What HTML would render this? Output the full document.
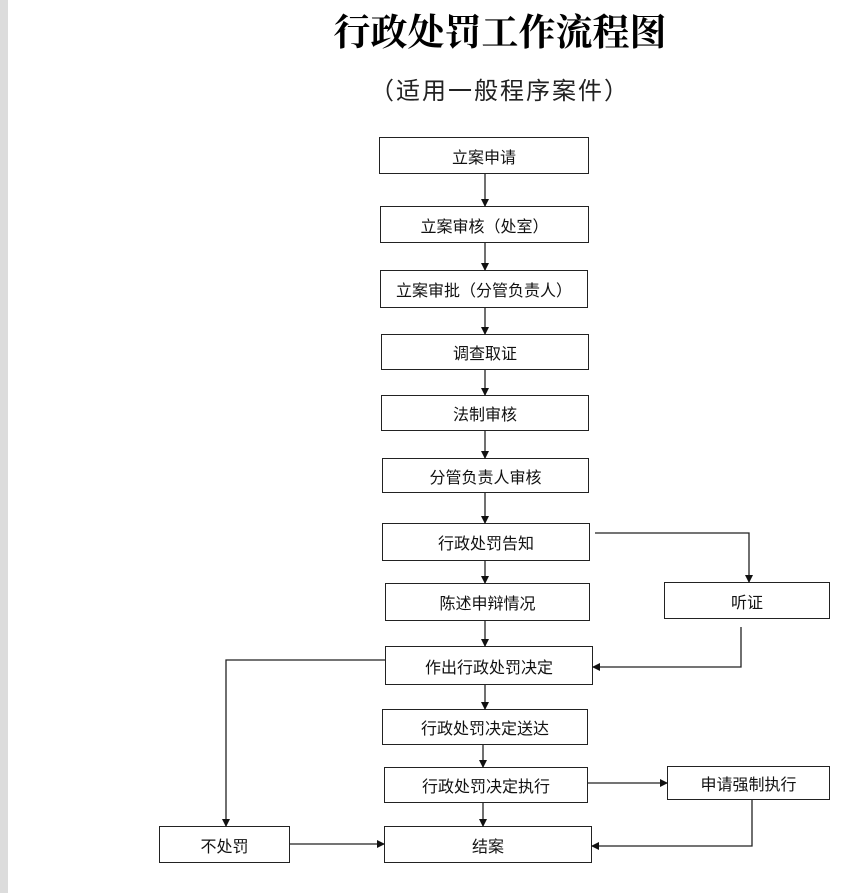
<!DOCTYPE html>
<html><head><meta charset="utf-8"><style>
body{margin:0;width:865px;height:893px;background:#fff;overflow:hidden;position:relative;font-family:"Liberation Sans","Noto Sans CJK SC",sans-serif}
.bar{position:absolute;left:0;top:0;width:8px;height:893px;background:#dcdcdc}
.t{position:absolute;left:290px;width:420px;text-align:center;top:2px;font:bold 37px "Noto Serif CJK SC",serif;color:#000}
.s{position:absolute;left:330px;width:340px;text-align:center;top:71px;font-size:24px;color:#222;letter-spacing:2px}
.b{position:absolute;border:1.5px solid #222;box-sizing:border-box;display:flex;align-items:center;justify-content:center;font-size:16px;color:#111}
</style></head><body>
<div class="bar"></div>
<div class="t">行政处罚工作流程图</div>
<div class="s">（适用一般程序案件）</div>
<div class="b" style="left:379px;top:137px;width:210px;height:37px">立案申请</div>
<div class="b" style="left:380px;top:206px;width:209px;height:37px">立案审核（处室）</div>
<div class="b" style="left:380px;top:270px;width:208px;height:38px">立案审批（分管负责人）</div>
<div class="b" style="left:381px;top:334px;width:208px;height:36px">调查取证</div>
<div class="b" style="left:381px;top:395px;width:208px;height:36px">法制审核</div>
<div class="b" style="left:382px;top:458px;width:207px;height:35px">分管负责人审核</div>
<div class="b" style="left:382px;top:523px;width:208px;height:38px">行政处罚告知</div>
<div class="b" style="left:385px;top:583px;width:205px;height:38px">陈述申辩情况</div>
<div class="b" style="left:664px;top:582px;width:166px;height:37px">听证</div>
<div class="b" style="left:385px;top:646px;width:208px;height:39px">作出行政处罚决定</div>
<div class="b" style="left:382px;top:709px;width:206px;height:36px">行政处罚决定送达</div>
<div class="b" style="left:384px;top:767px;width:204px;height:36px">行政处罚决定执行</div>
<div class="b" style="left:667px;top:766px;width:163px;height:34px">申请强制执行</div>
<div class="b" style="left:159px;top:826px;width:131px;height:37px">不处罚</div>
<div class="b" style="left:384px;top:826px;width:208px;height:37px">结案</div>
<svg width="865" height="893" style="position:absolute;left:0;top:0">
<defs><marker id="a" markerWidth="8" markerHeight="8" refX="7" refY="4" orient="auto" markerUnits="userSpaceOnUse"><path d="M0,0 L8,4 L0,8z" fill="#111"/></marker></defs>
<g stroke="#222" stroke-width="1.3" fill="none" marker-end="url(#a)">
<path d="M485,174 V206"/><path d="M485,243 V270"/><path d="M485,308 V334"/>
<path d="M485,370 V395"/><path d="M485,431 V458"/><path d="M485,493 V523"/>
<path d="M485,561 V583"/><path d="M485,621 V646"/><path d="M485,685 V709"/>
<path d="M483,745 V767"/><path d="M483,803 V826"/>
<path d="M595,533 H749 V582"/>
<path d="M741,627 V667 H593"/>
<path d="M385,660 H226 V826"/>
<path d="M588,783 H667"/>
<path d="M752,800 V846 H592"/>
<path d="M290,844 H384"/>
</g></svg>
</body></html>
